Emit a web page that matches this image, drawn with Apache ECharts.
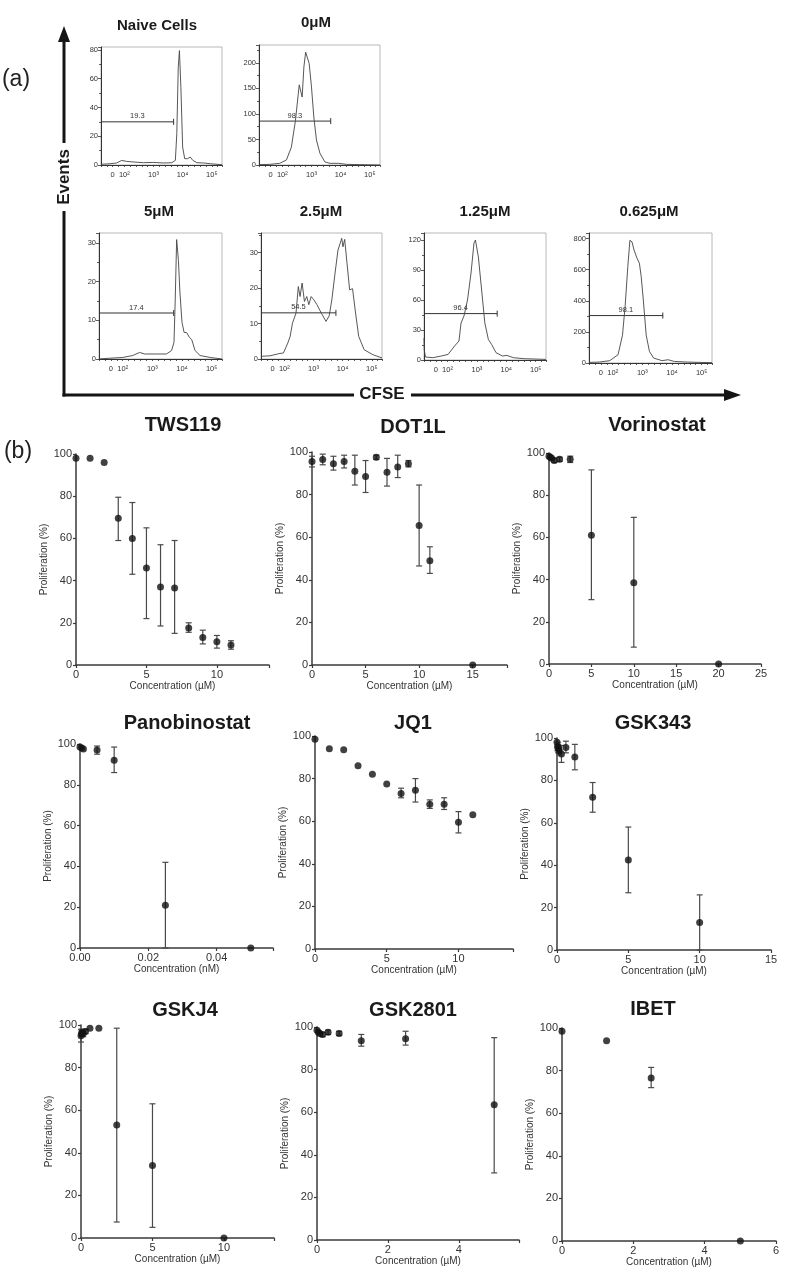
<!DOCTYPE html>
<html><head><meta charset="utf-8">
<script src="https://cdn.jsdelivr.net/npm/echarts@6/dist/echarts.min.js"></script>
<style>html,body{margin:0;padding:0;background:#fff}#c{width:800px;height:1275px}</style>
</head><body><div id="c"></div>
<script>
// ---------------- DATA: panel (a) histograms (x in decades of CFSE, y = events) ----------------
const HIST_TICKS = [1.6, 2, 3, 4, 5];
const HIST_TICK_LABELS = ['0', '10²', '10³', '10⁴', '10⁵'];

const NAIVE_X = [1.2,1.51,1.74,1.91,2.08,2.31,2.66,3.0,3.34,3.63,3.75,3.8,3.85,3.89,3.94,4.0,4.07,4.17,4.26,4.35,4.49,4.72,4.95,5.35];
const NAIVE_Y = [0.5,0.9,1.4,3.2,2.5,2.1,1.6,1.8,1.4,1.6,3.2,21.7,68,79.5,54,12.5,4.4,4.4,5.5,3.2,1.6,1.4,0.9,0.2];
const NAIVE_GATE = [1.2, 3.69, 30]; const NAIVE_PCT = '19.3';

const C0_X = [1.2,1.57,1.91,2.14,2.31,2.45,2.58,2.63,2.68,2.74,2.8,2.86,2.92,3.0,3.08,3.17,3.29,3.46,3.63,3.92,4.2,4.66,5.35];
const C0_Y = [0.7,1.3,3.3,9.8,35,87,157,156,133,192,221,220,199,153,94,49,23,6,3.3,3.3,1.3,0.7,0];
const C0_GATE = [1.2, 3.66, 86]; const C0_PCT = '98.3';

const C5_X = [1.2,1.55,2.0,2.34,2.57,2.74,3.14,3.48,3.65,3.73,3.77,3.82,3.88,3.93,4.0,4.07,4.16,4.25,4.33,4.44,4.61,4.95,5.35];
const C5_Y = [0,0.2,0.4,0.9,1.7,1.3,1.3,1.3,2.2,4.3,14.7,30.9,25.5,17.3,9.5,6.9,6.8,5.6,5.0,2.2,0.9,0.4,0];
const C5_GATE = [1.2, 3.72, 11.9]; const C5_PCT = '17.4';

const C25_X = [1.2,1.51,1.81,1.97,2.12,2.2,2.28,2.4,2.48,2.54,2.61,2.69,2.77,2.84,2.92,3.01,3.12,3.27,3.43,3.54,3.63,3.74,3.84,3.97,4.01,4.07,4.15,4.24,4.34,4.43,4.55,4.74,5.04,5.35];
const C25_Y = [0.75,0.9,1.5,1.7,4.5,6.4,10.1,12.9,20.4,17.6,21.4,16.2,17.6,15.3,17.6,16.7,15.3,12.9,10.6,12.2,16.7,24.2,30.7,34,31.6,33.7,27,19.5,19.8,13.8,6.4,2.6,1.2,0.3];
const C25_GATE = [1.2, 3.77, 13]; const C25_PCT = '54.5';

const C125_X = [1.2,1.21,1.25,1.5,1.79,2.02,2.24,2.39,2.46,2.56,2.68,2.8,2.9,2.95,3.05,3.16,3.27,3.39,3.5,3.65,3.87,4.02,4.24,4.61,5.35];
const C125_Y = [22,10,3,2.3,4,5.6,14,19,37,44,60,87,117,120,103,70,37,20.5,15.6,7.3,4,4.6,2.3,1.3,0.6];
const C125_GATE = [1.2, 3.69, 46.4]; const C125_PCT = '96.4';

const C0625_X = [1.2,1.55,1.9,2.18,2.33,2.42,2.51,2.58,2.65,2.72,2.82,2.9,2.96,3.03,3.13,3.24,3.38,3.66,3.87,4.08,4.51,5.35];
const C0625_Y = [4,6,15,53,179,368,621,789,779,726,674,642,558,411,179,74,32,15,21,10,6,2];
const C0625_GATE = [1.2, 3.69, 305]; const C0625_PCT = '98.1';

// ---------------- DATA: panel (b) dose-response (x concentration, y proliferation %, error lo/hi) ----------------
const TWS119_X  = [0,1,2,3,4,5,6,7,8,9,10,11];
const TWS119_Y  = [98,98,96,69.5,60,46,37,36.5,17.5,13,11,9.5];
const TWS119_LO = [null,null,null,59,43,22,18.5,15,15.5,10,8,7.5];
const TWS119_HI = [null,null,null,79.5,77,65,57,59,20,16.5,14,11.5];

const DOT1L_X  = [0,1,2,3,4,5,6,7,8,9,10,11,15];
const DOT1L_Y  = [95.5,96.5,94.5,95.5,91,88.5,97.5,90.5,93,94.5,65.5,49,0];
const DOT1L_LO = [93,94,91.5,92.5,84.5,81,96.5,84,88,93,46.5,43,null];
const DOT1L_HI = [98,99,98,98.5,98.5,96,98.5,97,98.5,96,84.5,55.5,null];

const VORI_X  = [0,0.156,0.3125,0.625,1.25,2.5,5,10,20];
const VORI_Y  = [98.5,98,97.5,96.5,97,97,61,38.5,0];
const VORI_LO = [null,null,null,95.5,96,95.5,30.5,8,null];
const VORI_HI = [null,null,null,97.5,98,98.5,92,69.5,null];

const PANO_X  = [0,0.0005,0.001,0.005,0.01,0.025,0.05];
const PANO_Y  = [98.5,98,97.5,97,92,21,0];
const PANO_LO = [null,null,null,95,86,0,null];
const PANO_HI = [null,null,null,99,98.5,42,null];

const JQ1_X  = [0,1,2,3,4,5,6,7,8,9,10,11];
const JQ1_Y  = [98.5,94,93.5,86,82,77.5,73,74.5,68,68,59.5,63];
const JQ1_LO = [null,null,null,null,null,null,71,69,66,65.5,54.5,null];
const JQ1_HI = [null,null,null,null,null,null,75.5,80,70,71,64.5,null];

const GSK343_X  = [0,0.039,0.078,0.156,0.3125,0.625,1.25,2.5,5,10];
const GSK343_Y  = [98,96,95,94,92.5,95.5,91,72,42.5,13];
const GSK343_LO = [null,94,93,92,88.5,93,85,65,27,0];
const GSK343_HI = [null,98,97,96,96.5,98.5,97,79,58,26];

const GSKJ4_X  = [0,0.039,0.078,0.156,0.3125,0.625,1.25,2.5,5,10];
const GSKJ4_Y  = [95,96,96.5,96,97,98.5,98.5,53,34,0];
const GSKJ4_LO = [92,94.5,95,94.5,96,null,null,7.5,5,null];
const GSKJ4_HI = [98,97.5,98,97.5,98,null,null,98.5,63,null];

const GSK2801_X  = [0,0.039,0.078,0.156,0.3125,0.625,1.25,2.5,5];
const GSK2801_Y  = [98.5,97.5,97,96.5,97.5,97,93.5,94.5,63.5];
const GSK2801_LO = [null,null,null,95.5,96.5,96,91,91.5,31.5];
const GSK2801_HI = [null,null,null,97.5,98.5,98,96.5,98,95];

const IBET_X  = [0,1.25,2.5,5];
const IBET_Y  = [98.5,94,76.5,0];
const IBET_LO = [null,null,72,null];
const IBET_HI = [null,null,81.5,null];

// ---------------- BUILD ----------------
const FONT = "'Liberation Sans', Arial, Helvetica, sans-serif";
const grids = [], xAxes = [], yAxes = [], series = [], graphics = [];
const zip = (a, b) => a.map((v, i) => [v, b[i]]);
const onTick = (v, step) => Math.abs(v / step - Math.round(v / step)) < 1e-6;

function titleText(x, y, text, size) {
  graphics.push({type: 'text', x: x, y: y, silent: true,
    style: {text: text, font: 'bold ' + size + 'px ' + FONT, fill: '#1a1a1a',
      align: 'center', verticalAlign: 'middle', textAlign: 'center', textVerticalAlign: 'middle'}});
}

function addHist(h) {
  const gi = grids.length;
  grids.push({left: h.left, top: h.top, width: h.width, height: h.height, show: true,
    borderColor: '#b8b8b8', borderWidth: 1, backgroundColor: 'transparent'});
  xAxes.push({gridIndex: gi, type: 'value', min: 1.2, max: 5.35, interval: 0.2,
    axisLine: {show: true, onZero: false, lineStyle: {color: '#333', width: 1}},
    axisTick: {show: true, length: 2, lineStyle: {color: '#333', width: 0.8}},
    axisLabel: {margin: 6, fontSize: 7.5, color: '#333', fontFamily: FONT,
      formatter: v => { const i = HIST_TICKS.findIndex(t => Math.abs(t - v) < 1e-6); return i >= 0 ? HIST_TICK_LABELS[i] : ''; }},
    splitLine: {show: false}});
  yAxes.push({gridIndex: gi, type: 'value', min: 0, max: h.ymax, interval: h.yint,
    axisLine: {show: true, onZero: false, lineStyle: {color: '#333', width: 1}},
    axisTick: {show: true, length: 3, lineStyle: {color: '#333', width: 0.8}},
    minorTick: {show: true, splitNumber: 2, length: 2, lineStyle: {color: '#333', width: 0.8}},
    axisLabel: {margin: 3, fontSize: 7.5, color: '#333', fontFamily: FONT,
      formatter: v => onTick(v, h.yint) ? String(v) : ''},
    splitLine: {show: false}});
  series.push({type: 'line', xAxisIndex: gi, yAxisIndex: gi, data: zip(h.x, h.y),
    showSymbol: false, symbol: 'none', lineStyle: {color: '#444', width: 0.9}, silent: true});
  const g = h.gate, pct = h.pct;
  series.push({type: 'custom', xAxisIndex: gi, yAxisIndex: gi, data: [[g[0], g[2], g[1]]],
    encode: {x: [0, 2], y: 1}, silent: true,
    renderItem: (params, api) => {
      const a = api.coord([api.value(0), api.value(1)]);
      const b = api.coord([api.value(2), api.value(1)]);
      const st = {stroke: '#333', lineWidth: 1};
      return {type: 'group', children: [
        {type: 'line', shape: {x1: a[0], y1: a[1], x2: b[0], y2: b[1]}, style: st},
        {type: 'line', shape: {x1: a[0] + 0.5, y1: a[1] - 3, x2: a[0] + 0.5, y2: a[1] + 3}, style: st},
        {type: 'line', shape: {x1: b[0], y1: b[1] - 3, x2: b[0], y2: b[1] + 3}, style: st},
        {type: 'text', x: (a[0] + b[0]) / 2, y: a[1] - 1.5,
          style: {text: pct, font: '7.5px ' + FONT, fill: '#333', align: 'center', verticalAlign: 'bottom',
            textAlign: 'center', textVerticalAlign: 'bottom'}}
      ]};
    }});
  titleText(h.tx, h.ty, h.title, 15);
}

function addDose(d) {
  const gi = grids.length;
  grids.push({left: d.left, top: d.top, width: d.width, height: d.height, show: false});
  xAxes.push({gridIndex: gi, type: 'value', min: 0, max: d.xmax, interval: d.xint,
    axisLine: {show: true, onZero: false, lineStyle: {color: '#3a3a3a', width: 1.5}},
    axisTick: {show: true, length: 3, lineStyle: {color: '#3a3a3a', width: 1.2}},
    axisLabel: {margin: 4, fontSize: 11, color: '#333', fontFamily: FONT,
      formatter: v => onTick(v, d.xint) ? (d.dec ? v.toFixed(d.dec) : String(v)) : ''},
    splitLine: {show: false},
    name: d.xname, nameLocation: 'middle', nameGap: 16,
    nameTextStyle: {fontSize: 10, color: '#333', fontFamily: FONT}});
  yAxes.push({gridIndex: gi, type: 'value', min: 0, max: 100, interval: 20,
    axisLine: {show: true, onZero: false, lineStyle: {color: '#3a3a3a', width: 1.5}},
    axisTick: {show: true, length: 3, lineStyle: {color: '#3a3a3a', width: 1.2}},
    axisLabel: {margin: 4, fontSize: 11, color: '#333', fontFamily: FONT},
    splitLine: {show: false},
    name: 'Proliferation (%)', nameLocation: 'middle', nameGap: 25,
    nameTextStyle: {fontSize: 10, color: '#333', fontFamily: FONT}});
  const err = [];
  d.x.forEach((v, i) => { if (d.lo[i] != null && d.hi[i] != null) err.push([v, d.lo[i], d.hi[i]]); });
  series.push({type: 'custom', xAxisIndex: gi, yAxisIndex: gi, data: err, encode: {x: 0, y: [1, 2]},
    silent: true, clip: false,
    renderItem: (params, api) => {
      const p1 = api.coord([api.value(0), api.value(1)]);
      const p2 = api.coord([api.value(0), api.value(2)]);
      const st = {stroke: '#4a4a4a', lineWidth: 1.2};
      const w = 3;
      return {type: 'group', children: [
        {type: 'line', shape: {x1: p1[0], y1: p1[1], x2: p2[0], y2: p2[1]}, style: st},
        {type: 'line', shape: {x1: p1[0] - w, y1: p1[1], x2: p1[0] + w, y2: p1[1]}, style: st},
        {type: 'line', shape: {x1: p2[0] - w, y1: p2[1], x2: p2[0] + w, y2: p2[1]}, style: st}
      ]};
    }});
  series.push({type: 'scatter', xAxisIndex: gi, yAxisIndex: gi, data: zip(d.x, d.y),
    symbol: 'circle', symbolSize: 7, itemStyle: {color: '#111'}, clip: false, silent: true});
  titleText(d.tx, d.ty, d.title, 20);
}

// panel (a)
addHist({title: 'Naive Cells', tx: 157, ty: 26, left: 101, top: 47, width: 121, height: 118, ymax: 82, yint: 20, x: NAIVE_X, y: NAIVE_Y, gate: NAIVE_GATE, pct: NAIVE_PCT});
addHist({title: '0μM', tx: 316, ty: 23, left: 259, top: 45, width: 121, height: 120, ymax: 235, yint: 50, x: C0_X, y: C0_Y, gate: C0_GATE, pct: C0_PCT});
addHist({title: '5μM', tx: 159, ty: 212, left: 99, top: 233, width: 123, height: 126, ymax: 32.6, yint: 10, x: C5_X, y: C5_Y, gate: C5_GATE, pct: C5_PCT});
addHist({title: '2.5μM', tx: 321, ty: 212, left: 261, top: 233, width: 121, height: 126, ymax: 35.5, yint: 10, x: C25_X, y: C25_Y, gate: C25_GATE, pct: C25_PCT});
addHist({title: '1.25μM', tx: 485, ty: 212, left: 424, top: 233, width: 122, height: 127, ymax: 127, yint: 30, x: C125_X, y: C125_Y, gate: C125_GATE, pct: C125_PCT});
addHist({title: '0.625μM', tx: 649, ty: 212, left: 589, top: 233, width: 123, height: 130, ymax: 836, yint: 200, x: C0625_X, y: C0625_Y, gate: C0625_GATE, pct: C0625_PCT});

// panel (b)
const UM = 'Concentration (µM)';
addDose({title: 'TWS119', tx: 183, ty: 425, left: 76, top: 454, width: 193, height: 211, xmax: 13.7, xint: 5, xname: UM, x: TWS119_X, y: TWS119_Y, lo: TWS119_LO, hi: TWS119_HI});
addDose({title: 'DOT1L', tx: 413, ty: 427, left: 312, top: 452, width: 195, height: 213, xmax: 18.2, xint: 5, xname: UM, x: DOT1L_X, y: DOT1L_Y, lo: DOT1L_LO, hi: DOT1L_HI});
addDose({title: 'Vorinostat', tx: 657, ty: 425, left: 549, top: 453, width: 212, height: 211, xmax: 25, xint: 5, xname: UM, x: VORI_X, y: VORI_Y, lo: VORI_LO, hi: VORI_HI});
addDose({title: 'Panobinostat', tx: 187, ty: 723, left: 80, top: 744, width: 193, height: 204, xmax: 0.0565, xint: 0.02, dec: 2, xname: 'Concentration (nM)', x: PANO_X, y: PANO_Y, lo: PANO_LO, hi: PANO_HI});
addDose({title: 'JQ1', tx: 413, ty: 723, left: 315, top: 736, width: 198, height: 213, xmax: 13.8, xint: 5, xname: UM, x: JQ1_X, y: JQ1_Y, lo: JQ1_LO, hi: JQ1_HI});
addDose({title: 'GSK343', tx: 653, ty: 723, left: 557, top: 738, width: 214, height: 212, xmax: 15, xint: 5, xname: UM, x: GSK343_X, y: GSK343_Y, lo: GSK343_LO, hi: GSK343_HI});
addDose({title: 'GSKJ4', tx: 185, ty: 1010, left: 81, top: 1025, width: 193, height: 213, xmax: 13.5, xint: 5, xname: UM, x: GSKJ4_X, y: GSKJ4_Y, lo: GSKJ4_LO, hi: GSKJ4_HI});
addDose({title: 'GSK2801', tx: 413, ty: 1010, left: 317, top: 1027, width: 202, height: 213, xmax: 5.7, xint: 2, xname: UM, x: GSK2801_X, y: GSK2801_Y, lo: GSK2801_LO, hi: GSK2801_HI});
addDose({title: 'IBET', tx: 653, ty: 1009, left: 562, top: 1028, width: 214, height: 213, xmax: 6, xint: 2, xname: UM, x: IBET_X, y: IBET_Y, lo: IBET_LO, hi: IBET_HI});

// panel labels and big axes arrows of panel (a)
const ARROW = '#151515';
graphics.push({type: 'text', x: 16, y: 80, style: {text: '(a)', font: '23px ' + FONT, fill: '#222', align: 'center', verticalAlign: 'middle', textAlign: 'center', textVerticalAlign: 'middle'}});
graphics.push({type: 'text', x: 18, y: 452, style: {text: '(b)', font: '23px ' + FONT, fill: '#222', align: 'center', verticalAlign: 'middle', textAlign: 'center', textVerticalAlign: 'middle'}});
graphics.push({type: 'line', shape: {x1: 64, y1: 40, x2: 64, y2: 143}, style: {stroke: ARROW, lineWidth: 3}});
graphics.push({type: 'line', shape: {x1: 64, y1: 211, x2: 64, y2: 396.5}, style: {stroke: ARROW, lineWidth: 3}});
graphics.push({type: 'polygon', shape: {points: [[64, 26], [58, 42], [70, 42]]}, style: {fill: ARROW}});
graphics.push({type: 'text', x: 64, y: 177, rotation: Math.PI / 2, style: {text: 'Events', font: 'bold 17px ' + FONT, fill: '#1a1a1a', align: 'center', verticalAlign: 'middle', textAlign: 'center', textVerticalAlign: 'middle'}});
graphics.push({type: 'line', shape: {x1: 62.5, y1: 395, x2: 354, y2: 395}, style: {stroke: ARROW, lineWidth: 3}});
graphics.push({type: 'line', shape: {x1: 411, y1: 395, x2: 726, y2: 395}, style: {stroke: ARROW, lineWidth: 3}});
graphics.push({type: 'polygon', shape: {points: [[741, 395], [724, 389], [724, 401]]}, style: {fill: ARROW}});
graphics.push({type: 'text', x: 382, y: 394, style: {text: 'CFSE', font: 'bold 17px ' + FONT, fill: '#1a1a1a', align: 'center', verticalAlign: 'middle', textAlign: 'center', textVerticalAlign: 'middle'}});

const chart = echarts.init(document.getElementById('c'), null, {renderer: 'canvas', width: 800, height: 1275});
chart.setOption({
  animation: false,
  backgroundColor: '#ffffff',
  textStyle: {fontFamily: FONT},
  grid: grids, xAxis: xAxes, yAxis: yAxes, series: series, graphic: graphics
});
</script></body></html>
